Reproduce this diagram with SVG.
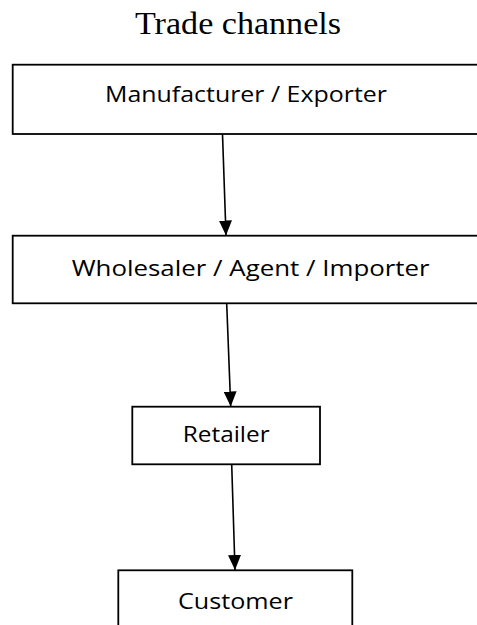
<svg xmlns="http://www.w3.org/2000/svg" width="477" height="625" viewBox="0 0 477 625">
  <defs>
    <marker id="arrow" viewBox="0 0 15 13" refX="15" refY="6.5" markerWidth="15" markerHeight="13" markerUnits="userSpaceOnUse" orient="auto">
      <path d="M0,0 L15,6.5 L0,13 z" fill="#000"/>
    </marker>
  </defs>
  <style>
    .box { fill: #fff; stroke: #000; stroke-width: 1.8; }
    .lbl { font-family: "Open Sans", "Liberation Sans", Arial, sans-serif; font-size: 22.5px; fill: #000; }
    .title { font-family: "Liberation Serif", "Times New Roman", serif; font-size: 32px; fill: #000; }
    .conn { stroke: #000; stroke-width: 1.6; fill: none; marker-end: url(#arrow); }
  </style>
  <rect width="477" height="625" fill="#fff"/>
  <text class="title" x="135" y="33.5" textLength="206" lengthAdjust="spacingAndGlyphs">Trade channels</text>

  <g id="connectors">
    <line class="conn" x1="222.5" y1="134" x2="226" y2="235.5"/>
    <line class="conn" x1="226.7" y1="303.5" x2="230.7" y2="406.5"/>
    <line class="conn" x1="231.7" y1="464" x2="235" y2="570"/>
  </g>

  <g id="manufacturer">
    <rect class="box" x="12.7" y="64.7" width="490" height="69.3"/>
    <text class="lbl" x="105" y="101.5" textLength="282" lengthAdjust="spacingAndGlyphs">Manufacturer / Exporter</text>
  </g>
  <g id="wholesaler">
    <rect class="box" x="12.7" y="235.7" width="490" height="67.6"/>
    <text class="lbl" x="71.7" y="276" textLength="358" lengthAdjust="spacingAndGlyphs">Wholesaler / Agent / Importer</text>
  </g>
  <g id="retailer">
    <rect class="box" x="132.3" y="406.7" width="187.7" height="57.6"/>
    <text class="lbl" x="182.7" y="441.5" textLength="87" lengthAdjust="spacingAndGlyphs">Retailer</text>
  </g>
  <g id="customer">
    <rect class="box" x="118.3" y="570.3" width="234" height="80"/>
    <text class="lbl" x="178" y="609" textLength="115" lengthAdjust="spacingAndGlyphs">Customer</text>
  </g>
</svg>
